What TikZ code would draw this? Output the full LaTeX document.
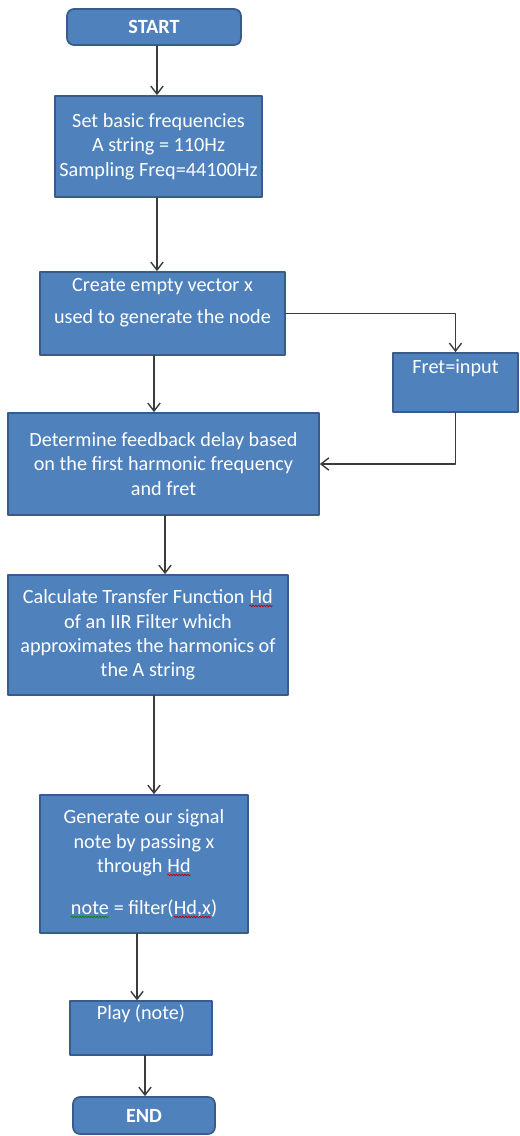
\documentclass[tikz,border=0pt]{standalone}
\usepackage{fontspec}
\setmainfont{Carlito}
\usetikzlibrary{arrows.meta,decorations.pathmorphing}
\definecolor{boxblue}{RGB}{79,129,189}
\definecolor{boxedge}{RGB}{56,93,138}
\definecolor{linegray}{RGB}{60,60,60}
\newcommand{\wavy}[2]{\tikz[baseline=(w.base)]{\node[draw=none,fill=none,inner sep=0pt,outer sep=0pt,text=white,minimum size=0pt](w){#2};\draw[draw=#1,line width=0.4pt,sharp corners,decorate,decoration={zigzag,amplitude=0.5pt,segment length=1.6pt}]([yshift=-1.3pt]w.base west)--([yshift=-1.3pt]w.base east);}}

\begin{document}
\begin{tikzpicture}[line cap=round,line join=round,>={Straight Barb[length=4.5pt,width=7pt]},x=0.02cm,y=-0.02cm,
  box/.style={draw=boxedge,fill=boxblue,line width=1pt,text=white,align=center,inner sep=2pt,font=\fontsize{11.5}{13.9}\selectfont},
  term/.style={box,rounded corners=4pt,font=\fontsize{11.5}{13.9}\selectfont\bfseries},
  flow/.style={->,draw=linegray,line width=0.8pt}]
\useasboundingbox (0,0) rectangle (520,1136);
\node[term,minimum width=3.48cm,minimum height=0.72cm] (start) at (154,27) {START};
\node[box,minimum width=4.14cm,minimum height=2.02cm] (setfreq) at (158.5,146.5) {Set basic frequencies\\A string = 110Hz\\Sampling Freq=44100Hz};
\node[box,minimum width=4.9cm,minimum height=1.66cm] (create) at (162.5,313.5) {Create empty vector x\\[4pt]used to generate the node\\[-4pt]\strut};
\node[box,minimum width=2.5cm,minimum height=1.18cm] (fret) at (455.5,382.5) {Fret=input\\\strut};
\node[box,minimum width=6.22cm,minimum height=2.04cm] (determine) at (163.5,464) {Determine feedback delay based\\on the first harmonic frequency\\and fret};
\node[box,minimum width=5.6cm,minimum height=2.4cm] (calc) at (148,635) {Calculate Transfer Function \wavy{red!75!black}{Hd}\\of an IIR Filter which\\approximates the harmonics of\\the A string};
\node[box,minimum width=4.16cm,minimum height=2.76cm] (generate) at (144,864) {Generate our signal\\note by passing x\\through \wavy{red!75!black}{Hd}\\[10pt]\wavy{green!55!black}{note} = filter(\wavy{red!75!black}{Hd,x})};
\node[box,minimum width=2.84cm,minimum height=1.04cm] (play) at (141,1028) {Play (note)\\\strut};
\node[term,minimum width=2.84cm,minimum height=0.74cm] (end) at (144,1115.5) {END};
\coordinate (colA) at (157,0);
\coordinate (colB) at (154,0);
\coordinate (colC) at (165,0);
\coordinate (colD) at (137,0);
\coordinate (colE) at (145,0);
\draw[flow] (start.south -| colA) -- (setfreq.north -| colA);
\draw[flow] (setfreq.south -| colA) -- (create.north -| colA);
\draw[flow] (create.east) -| (fret.north);
\draw[flow] (create.south -| colB) -- (determine.north -| colB);
\draw[flow] (fret.south) |- (determine.east);
\draw[flow] (determine.south -| colC) -- (calc.north -| colC);
\draw[flow] (calc.south -| colB) -- (generate.north -| colB);
\draw[flow] (generate.south -| colD) -- (play.north -| colD);
\draw[flow] (play.south -| colE) -- (end.north -| colE);
\end{tikzpicture}
\end{document}
